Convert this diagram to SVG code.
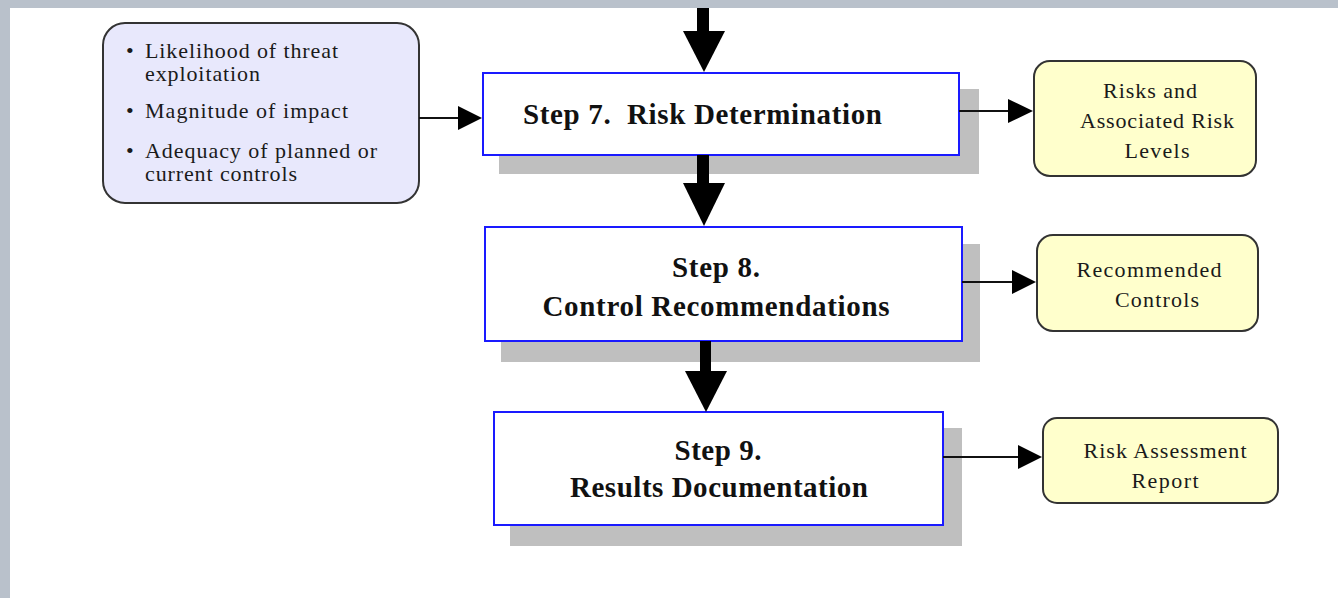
<svg xmlns="http://www.w3.org/2000/svg" width="1338" height="598" viewBox="0 0 1338 598">
<style>
.frame{fill:#b9c1cb}
.shadow{fill:#bfbfbf}
.step{fill:#ffffff;stroke:#1a1aff;stroke-width:2}
.out{fill:#ffffcc;stroke:#333333;stroke-width:2}
.in{fill:#e8e8fc;stroke:#333333;stroke-width:2}
.t{font-family:'Liberation Serif','DejaVu Serif',serif;font-size:22px;fill:#1a1a1a}
.b{font-family:'Liberation Serif','DejaVu Serif',serif;font-size:29px;font-weight:bold;fill:#111111;white-space:pre}
.thin{stroke:#111;stroke-width:2;fill:none}
.head{fill:#000}
</style>
<rect width="1338" height="598" fill="#ffffff"/>
<rect class="frame" x="0" y="0" width="1338" height="8"/>
<rect class="frame" x="0" y="0" width="10" height="598"/>

<g id="inputs">
<rect class="in" x="103" y="23" width="316" height="180" rx="22"/>
<text class="t" x="126" y="58">•</text>
<text class="t" x="145" y="58" textLength="193" lengthAdjust="spacing">Likelihood of threat</text>
<text class="t" x="145" y="81" textLength="115" lengthAdjust="spacing">exploitation</text>
<text class="t" x="126" y="118">•</text>
<text class="t" x="145" y="118" textLength="203" lengthAdjust="spacing">Magnitude of impact</text>
<text class="t" x="126" y="158">•</text>
<text class="t" x="145" y="158" textLength="232" lengthAdjust="spacing">Adequacy of planned or</text>
<text class="t" x="145" y="181" textLength="152" lengthAdjust="spacing">current controls</text>
</g>

<g id="step7">
<rect class="shadow" x="499" y="89" width="480" height="85"/>
<rect class="step" x="483" y="73" width="476" height="82"/>
<text class="b" x="523" y="124" xml:space="preserve" textLength="359" lengthAdjust="spacing">Step 7.  Risk Determination</text>
</g>

<g id="step8">
<rect class="shadow" x="501" y="244" width="479" height="118"/>
<rect class="step" x="485" y="227" width="477" height="114"/>
<text class="b" x="716" y="277" text-anchor="middle" textLength="88" lengthAdjust="spacing">Step 8.</text>
<text class="b" x="716" y="316" text-anchor="middle" textLength="347" lengthAdjust="spacing">Control Recommendations</text>
</g>

<g id="step9">
<rect class="shadow" x="510" y="428" width="452" height="118"/>
<rect class="step" x="494" y="412" width="449" height="113"/>
<text class="b" x="718" y="460" text-anchor="middle" textLength="87" lengthAdjust="spacing">Step 9.</text>
<text class="b" x="719" y="497" text-anchor="middle" textLength="298" lengthAdjust="spacing">Results Documentation</text>
</g>

<g id="out1">
<rect class="out" x="1034" y="61" width="222" height="115" rx="16"/>
<text class="t" x="1150" y="98" text-anchor="middle" textLength="94" lengthAdjust="spacing">Risks and</text>
<text class="t" x="1157" y="128" text-anchor="middle" textLength="154" lengthAdjust="spacing">Associated Risk</text>
<text class="t" x="1157" y="158" text-anchor="middle" textLength="65" lengthAdjust="spacing">Levels</text>
</g>

<g id="out2">
<rect class="out" x="1037" y="235" width="221" height="96" rx="16"/>
<text class="t" x="1149" y="277" text-anchor="middle" textLength="145" lengthAdjust="spacing">Recommended</text>
<text class="t" x="1157" y="307" text-anchor="middle" textLength="84" lengthAdjust="spacing">Controls</text>
</g>

<g id="out3">
<rect class="out" x="1043" y="418" width="235" height="85" rx="14"/>
<text class="t" x="1165" y="458" text-anchor="middle" textLength="163" lengthAdjust="spacing">Risk Assessment</text>
<text class="t" x="1165" y="488" text-anchor="middle" textLength="67" lengthAdjust="spacing">Report</text>
</g>

<g id="connectors">
<rect class="head" x="697" y="8" width="12" height="24"/>
<path class="head" d="M683,31 L725,31 L704,72 Z"/>
<rect class="head" x="697" y="155" width="12" height="29"/>
<path class="head" d="M683,183 L725,183 L704,226 Z"/>
<rect class="head" x="700" y="341" width="11" height="31"/>
<path class="head" d="M685,371 L727,371 L706,412 Z"/>
<line class="thin" x1="419" y1="118" x2="460" y2="118"/>
<path class="head" d="M458,106 L482,118 L458,130 Z"/>
<line class="thin" x1="959" y1="111" x2="1010" y2="111"/>
<path class="head" d="M1008,99 L1033,111 L1008,123 Z"/>
<line class="thin" x1="962" y1="282" x2="1013" y2="282"/>
<path class="head" d="M1012,270 L1036,282 L1012,294 Z"/>
<line class="thin" x1="943" y1="457" x2="1020" y2="457"/>
<path class="head" d="M1018,445 L1042,457 L1018,469 Z"/>
</g>
</svg>
